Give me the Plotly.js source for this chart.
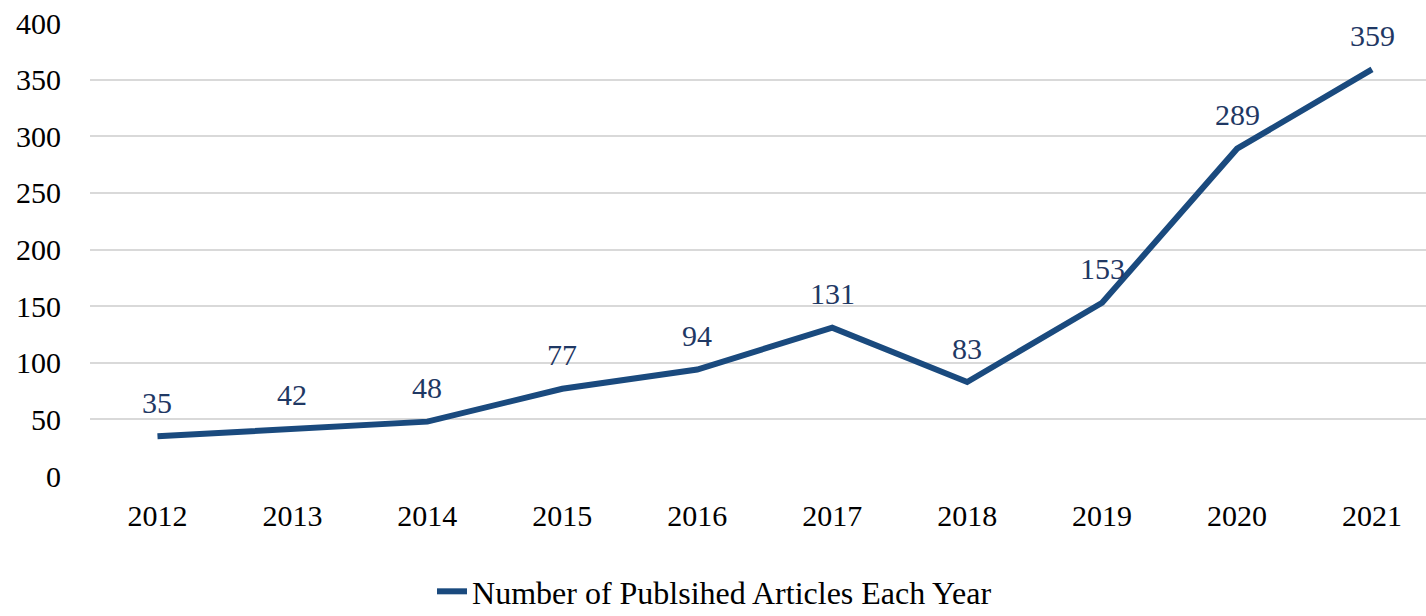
<!DOCTYPE html>
<html>
<head>
<meta charset="utf-8">
<script src="https://cdn.plot.ly/plotly-3.0.1.min.js"></script>
<style>html,body{margin:0;padding:0;background:#fff;}#chart{width:1426px;height:616px;}</style>
</head>
<body>
<div id="chart"></div>
<script>
const years = ['2012','2013','2014','2015','2016','2017','2018','2019','2020','2021'];
const articles = [35, 42, 48, 77, 94, 131, 83, 153, 289, 359];
const seriesName = 'Number of Publsihed Articles Each Year';
const yTicks = [0, 50, 100, 150, 200, 250, 300, 350, 400];

const FONT = 'Liberation Serif, Times New Roman, serif';

const trace = {
  x: years,
  y: articles,
  type: 'scatter',
  mode: 'lines',
  name: seriesName,
  line: {color: '#1a4a7e', width: 6},
  hoverinfo: 'skip'
};

const annotations = years.map((yr, i) => ({
  x: i, y: articles[i], xref: 'x', yref: 'y',
  text: String(articles[i]), showarrow: false,
  xanchor: 'center', yanchor: 'middle', yshift: 34,
  font: {family: FONT, size: 30, color: '#1f3864'}
}));

const layout = {
  width: 1426, height: 616,
  margin: {l: 89.5, r: 0, t: 23, b: 140, autoexpand: false},
  paper_bgcolor: '#fff', plot_bgcolor: '#fff',
  font: {family: FONT, size: 30, color: '#000'},
  showlegend: true,
  legend: {orientation: 'h', x: 0.256, xanchor: 'left', y: -0.255, yanchor: 'middle',
           font: {family: FONT, size: 32, color: '#000'}, tracegroupgap: 0},
  xaxis: {type: 'category', range: [-0.5, 9.4], showgrid: false, zeroline: false,
          showline: false, ticks: '', ticklabelstandoff: 19, tickfont: {size: 30}},
  yaxis: {range: [0, 400], tickvals: yTicks, ticktext: yTicks.map(String),
          showgrid: true, gridcolor: '#d9d9d9', gridwidth: 2, zeroline: false,
          showline: false, ticks: '', ticklabelstandoff: 28, tickfont: {size: 30}},
  annotations: annotations,
  hovermode: false
};

Plotly.newPlot('chart', [trace], layout, {displayModeBar: false, staticPlot: true});
</script>
</body>
</html>
